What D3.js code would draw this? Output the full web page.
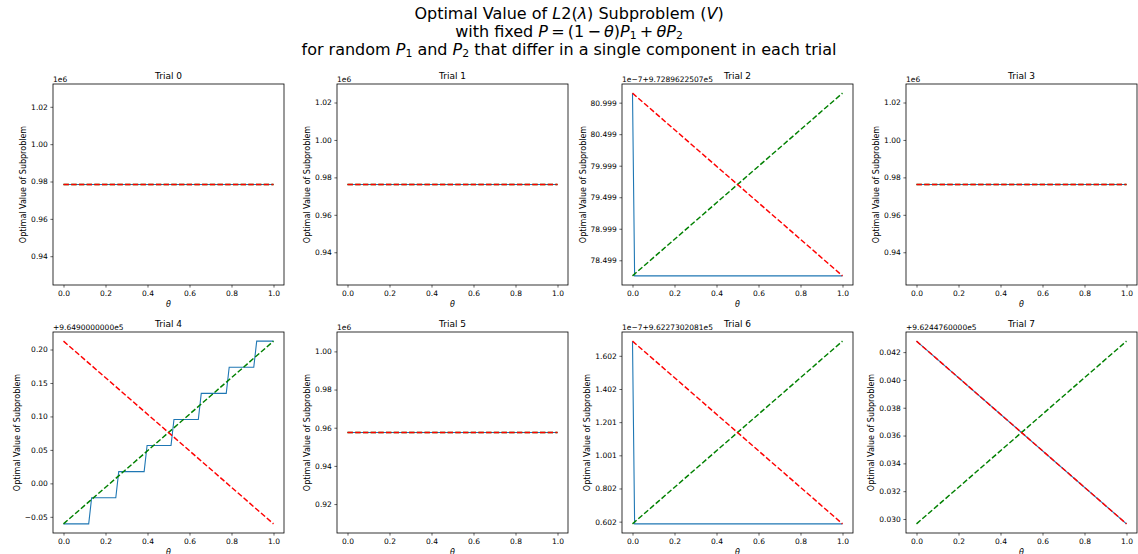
<!DOCTYPE html>
<html>
<head>
<meta charset="utf-8">
<script src="https://cdn.jsdelivr.net/npm/d3@7"></script>
<style>
  body { margin: 0; background: #fff; }
  text { font-family: "DejaVu Sans", sans-serif; fill: #000; }
</style>
</head>
<body>
<svg id="fig" width="1138" height="554"></svg>
<script>
// ---- data -------------------------------------------------------------
const trialTitles = ["Trial 0", "Trial 1", "Trial 2", "Trial 3", "Trial 4", "Trial 5", "Trial 6", "Trial 7"];

// axis offset / scale text shown above each y axis
const offsetTexts = ["1e6", "1e6", "1e\u22127+9.7289622507e5", "1e6",
                     "+9.6490000000e5", "1e6", "1e\u22127+9.6227302081e5", "+9.6244760000e5"];

// optimal value of the subproblem along theta (values relative to the offset)
const solvedTheta = [
  [0, 1],
  [0, 1],
  [0, 0.0101, 1],
  [0, 1],
  [0, 0.120, 0.134, 0.249, 0.263, 0.384, 0.398, 0.512, 0.526, 0.642, 0.656, 0.775, 0.789, 0.906, 0.920, 1],
  [0, 1],
  [0, 0.0101, 1],
  [0, 1]
];
const solvedValue = [
  [0.9784, 0.9784],
  [0.9762, 0.9762],
  [81.151, 78.253, 78.253],
  [0.9762, 0.9762],
  [-0.0605, -0.0605, -0.0215, -0.0215, 0.0175, 0.0175, 0.0565, 0.0565, 0.0955, 0.0955, 0.1345, 0.1345, 0.1735, 0.1735, 0.2125, 0.2125],
  [0.9575, 0.9575],
  [1.6886, 0.5866, 0.5866],
  [0.04279, 0.02965]
];

// dashed reference lines: value at theta = 0 and theta = 1
const greenStart = [0.9784, 0.9762, 78.253, 0.9762, -0.0605, 0.9575, 0.5866, 0.02965];
const greenEnd   = [0.9784, 0.9762, 81.151, 0.9762,  0.2125, 0.9575, 1.6886, 0.04279];
const redStart   = [0.9784, 0.9762, 81.151, 0.9762,  0.2125, 0.9575, 1.6886, 0.04279];
const redEnd     = [0.9784, 0.9762, 78.253, 0.9762, -0.0605, 0.9575, 0.5866, 0.02965];

// y ticks (positions and printed labels)
const yTickValues = [
  [0.94, 0.96, 0.98, 1.00, 1.02],
  [0.94, 0.96, 0.98, 1.00, 1.02],
  [78.5, 79.0, 79.5, 80.0, 80.5, 81.0],
  [0.94, 0.96, 0.98, 1.00, 1.02],
  [-0.05, 0.00, 0.05, 0.10, 0.15, 0.20],
  [0.92, 0.94, 0.96, 0.98, 1.00],
  [0.6, 0.8, 1.0, 1.2, 1.4, 1.6],
  [0.030, 0.032, 0.034, 0.036, 0.038, 0.040, 0.042]
];
const yTickLabels = [
  ["0.94", "0.96", "0.98", "1.00", "1.02"],
  ["0.94", "0.96", "0.98", "1.00", "1.02"],
  ["78.499", "78.999", "79.499", "79.999", "80.499", "80.999"],
  ["0.94", "0.96", "0.98", "1.00", "1.02"],
  ["\u22120.05", "0.00", "0.05", "0.10", "0.15", "0.20"],
  ["0.92", "0.94", "0.96", "0.98", "1.00"],
  ["0.602", "0.802", "1.001", "1.201", "1.402", "1.602"],
  ["0.030", "0.032", "0.034", "0.036", "0.038", "0.040", "0.042"]
];
const xTickValues = [0, 0.2, 0.4, 0.6, 0.8, 1.0];

// ---- layout -----------------------------------------------------------
const colLeft = [53, 337, 622, 906];
const rowTop = [84, 332];
const axW = 231, axH = 201;
const tickFont = 7.5, titleFont = 9, labelFont = 8, supFont = 16;
const tickLen = 2.6, tickPad = 2.6;
const blue = "#1f77b4", green = "#008000", red = "#ff0000";

const svg = d3.select("#fig");

// ---- figure title (mathtext-like rendering) ---------------------------
function richLine(y, segs) {
  const t = svg.append("text").attr("x", 569).attr("y", y)
    .attr("text-anchor", "middle").attr("font-size", supFont);
  const drop = supFont * 0.15;
  let shifted = false;
  segs.forEach(s => {
    const ts = t.append("tspan").text(s.t);
    if (s.i) ts.attr("font-style", "italic");
    if (s.sub) {
      ts.attr("font-size", supFont * 0.68).attr("dy", drop);
      shifted = true;
    } else if (shifted) {
      ts.attr("dy", -drop);
      shifted = false;
    }
  });
}
richLine(19, [
  {t: "Optimal Value of "}, {t: "L", i: 1}, {t: "2("}, {t: "\u03bb", i: 1}, {t: ") Subproblem ("},
  {t: "V", i: 1}, {t: ")"}
]);
richLine(36.5, [
  {t: "with fixed "}, {t: "P", i: 1}, {t: "\u2009=\u2009(1\u2009\u2212\u2009"}, {t: "\u03b8", i: 1}, {t: ")"},
  {t: "P", i: 1}, {t: "1", sub: 1}, {t: "\u2009+\u2009"}, {t: "\u03b8P", i: 1}, {t: "2", sub: 1}
]);
richLine(54.5, [
  {t: "for random "}, {t: "P", i: 1}, {t: "1", sub: 1}, {t: " and "}, {t: "P", i: 1}, {t: "2", sub: 1},
  {t: " that differ in a single component in each trial"}
]);

// ---- subplots ---------------------------------------------------------
trialTitles.forEach((title, k) => {
  const left = colLeft[k % 4], top = rowTop[Math.floor(k / 4)];
  const g = svg.append("g").attr("transform", `translate(${left},${top})`);

  const all = solvedValue[k].concat([greenStart[k], greenEnd[k], redStart[k], redEnd[k]]);
  let lo = d3.min(all), hi = d3.max(all);
  if (lo === hi) { const e = 0.05 * Math.abs(lo); lo -= e; hi += e; }
  const m = 0.05 * (hi - lo);
  const x = d3.scaleLinear().domain([-0.05, 1.05]).range([0, axW]);
  const y = d3.scaleLinear().domain([lo - m, hi + m]).range([axH, 0]);

  const clipId = "clip" + k;
  g.append("clipPath").attr("id", clipId).append("rect").attr("width", axW).attr("height", axH);
  const plot = g.append("g").attr("clip-path", `url(#${clipId})`);
  const line = d3.line().x(d => x(d[0])).y(d => y(d[1]));

  plot.append("path")
    .datum(solvedTheta[k].map((t, i) => [t, solvedValue[k][i]]))
    .attr("d", line).attr("fill", "none").attr("stroke", blue).attr("stroke-width", 1.1);
  plot.append("path")
    .datum([[0, greenStart[k]], [1, greenEnd[k]]])
    .attr("d", line).attr("fill", "none").attr("stroke", green)
    .attr("stroke-width", 1.45).attr("stroke-dasharray", "5.4,2.3");
  plot.append("path")
    .datum([[0, redStart[k]], [1, redEnd[k]]])
    .attr("d", line).attr("fill", "none").attr("stroke", red)
    .attr("stroke-width", 1.45).attr("stroke-dasharray", "5.4,2.3");

  // x axis
  const xa = g.append("g").attr("transform", `translate(0,${axH})`)
    .call(d3.axisBottom(x).tickValues(xTickValues).tickFormat(d3.format(".1f"))
      .tickSizeInner(tickLen).tickSizeOuter(0).tickPadding(tickPad));
  xa.select(".domain").remove();
  xa.selectAll("line").attr("stroke", "#000").attr("stroke-width", 0.6);
  xa.selectAll("text").attr("font-size", tickFont).attr("font-family", "DejaVu Sans").attr("fill", "#000");

  // y axis
  const ya = g.append("g")
    .call(d3.axisLeft(y).tickValues(yTickValues[k]).tickFormat((d, i) => yTickLabels[k][i])
      .tickSizeInner(tickLen).tickSizeOuter(0).tickPadding(tickPad));
  ya.select(".domain").remove();
  ya.selectAll("line").attr("stroke", "#000").attr("stroke-width", 0.6);
  ya.selectAll("text").attr("font-size", tickFont).attr("font-family", "DejaVu Sans").attr("fill", "#000");

  // frame
  g.append("rect").attr("width", axW).attr("height", axH)
    .attr("fill", "none").attr("stroke", "#000").attr("stroke-width", 0.8);

  // y label placed left of the widest tick label
  let maxW = 0;
  ya.selectAll("text").each(function () { maxW = Math.max(maxW, this.getBBox().width); });
  const yl = -(tickLen + tickPad + maxW + 2.9 + labelFont * 0.24);
  g.append("text").attr("transform", `translate(${yl},${axH / 2}) rotate(-90)`)
    .attr("text-anchor", "middle").attr("font-size", labelFont)
    .text("Optimal Value of Subproblem");

  // x label
  g.append("text").attr("x", axW / 2).attr("y", axH + tickLen + tickPad + tickFont * 1.17 + 2.0 + labelFont * 0.72)
    .attr("text-anchor", "middle").attr("font-size", labelFont).attr("font-style", "italic")
    .text("\u03b8");

  // offset text
  g.append("text").attr("x", 0).attr("y", -2.5).attr("font-size", tickFont).text(offsetTexts[k]);

  // title
  g.append("text").attr("x", axW / 2).attr("y", -4.6).attr("text-anchor", "middle")
    .attr("font-size", titleFont).text(title);
});
</script>
</body>
</html>
